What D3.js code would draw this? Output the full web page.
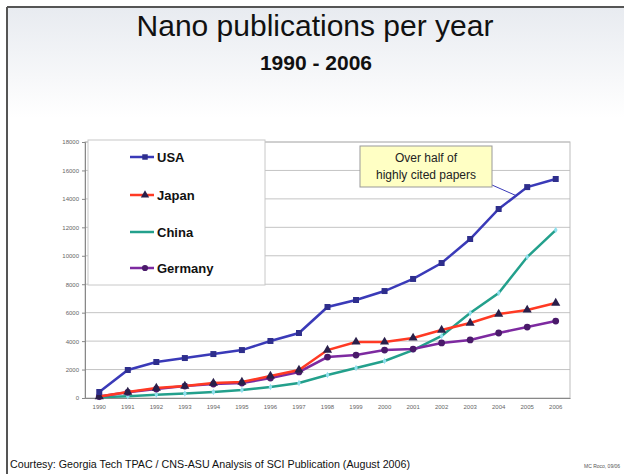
<!DOCTYPE html>
<html>
<head>
<meta charset="utf-8">
<script src="https://cdn.jsdelivr.net/npm/d3@7"></script>
<style>
  body { margin: 0; background: #fff; }
  svg { display: block; font-family: 'Liberation Sans', Arial, sans-serif; }
</style>
</head>
<body>
<div id="chart"></div>
<script>
// Data
var years = ['1990','1991','1992','1993','1994','1995','1996','1997','1998','1999','2000','2001','2002','2003','2004','2005','2006'];
var usa     = [420, 1970, 2530, 2810, 3090, 3370, 4010, 4570, 6400, 6890, 7520, 8370, 9490, 11180, 13290, 14830, 15400];
var japan   = [100, 420, 700, 840, 1050, 1120, 1550, 1970, 3370, 3940, 3940, 4220, 4780, 5270, 5900, 6190, 6680];
var china   = [50, 130, 220, 320, 420, 560, 780, 1050, 1620, 2110, 2600, 3370, 4360, 5980, 7380, 9910, 11810];
var germany = [100, 400, 630, 840, 980, 1050, 1400, 1830, 2880, 3020, 3370, 3440, 3870, 4080, 4570, 4990, 5410];
var yTicks  = [0, 2000, 4000, 6000, 8000, 10000, 12000, 14000, 16000, 18000];

var series = [
  { name: 'USA',     values: usa,     line: '#3a3ab8', mark: '#2e2e8c', shape: d3.symbolSquare },
  { name: 'Japan',   values: japan,   line: '#ff3a24', mark: '#2a1f4a', shape: d3.symbolTriangle },
  { name: 'China',   values: china,   line: '#23a08c', mark: '#8fe0ee', shape: d3.symbolDiamond },
  { name: 'Germany', values: germany, line: '#7d2aa0', mark: '#4a1a6a', shape: d3.symbolCircle }
];

var W = 624, H = 474;
var svg = d3.select('#chart').append('svg').attr('width', W).attr('height', H);

// Slide background and frame
  var defs = svg.append('defs');
  var grad = defs.append('linearGradient').attr('id', 'bg').attr('x1', 0).attr('y1', 0).attr('x2', 0).attr('y2', 1);
  grad.append('stop').attr('offset', '0%').attr('stop-color', '#e8ebf0');
  grad.append('stop').attr('offset', '100%').attr('stop-color', '#ffffff');
  svg.append('rect').attr('x', 8).attr('y', 8).attr('width', W - 8).attr('height', 110).attr('fill', 'url(#bg)');
  svg.append('line').attr('x1', 7).attr('x2', W).attr('y1', 7).attr('y2', 7).attr('stroke', '#555').attr('stroke-width', 2);
  svg.append('line').attr('x1', 7).attr('x2', 7).attr('y1', 7).attr('y2', H).attr('stroke', '#555').attr('stroke-width', 2);

// Titles
  svg.append('text').attr('x', 315).attr('y', 36).attr('text-anchor', 'middle')
    .attr('font-size', 30).attr('fill', '#111').text('Nano publications per year');
  svg.append('text').attr('x', 316).attr('y', 70).attr('text-anchor', 'middle')
    .attr('font-size', 21).attr('font-weight', 'bold').attr('fill', '#111').text('1990 -  2006');

// Scales
  var x = d3.scaleBand().domain(years).range([85, 570]);
  var y = d3.scaleLinear().domain([0, 18000]).range([398, 142]);
  var cx = d => x(d) + x.bandwidth() / 2;

// Grid and axes
  svg.append('g').selectAll('line').data(yTicks.slice(1)).join('line')
    .attr('x1', 85).attr('x2', 570)
    .attr('y1', d => y(d)).attr('y2', d => y(d))
    .attr('stroke', '#c4c4c4').attr('stroke-width', 1);

  svg.append('rect').attr('x', 85).attr('y', 142).attr('width', 485).attr('height', 256)
    .attr('fill', 'none').attr('stroke', '#bdbdbd');

  var yAxis = svg.append('g').attr('transform', 'translate(85,0)')
    .call(d3.axisLeft(y).tickValues(yTicks).tickFormat(d3.format('d')).tickSize(3).tickPadding(3));
  yAxis.select('.domain').attr('stroke', '#888');
  yAxis.selectAll('.tick line').attr('stroke', '#888');
  yAxis.selectAll('text').attr('font-size', 6).attr('fill', '#666');

  var xAxis = svg.append('g').attr('transform', 'translate(0,398)')
    .call(d3.axisBottom(x).tickSize(0).tickPadding(7));
  xAxis.select('.domain').attr('stroke', '#888');
  xAxis.selectAll('text').attr('font-size', 6).attr('fill', '#666');

// Lines and markers
  var line = d3.line().x((d, i) => cx(years[i])).y(d => y(d));
  var drawOrder = [series[2], series[3], series[1], series[0]];
  drawOrder.forEach(function(s) {
    svg.append('path').datum(s.values)
      .attr('d', line).attr('fill', 'none')
      .attr('stroke', s.line).attr('stroke-width', 2.5);
    svg.append('g').selectAll('path').data(s.values).join('path')
      .attr('transform', (d, i) => 'translate(' + cx(years[i]) + ',' + y(d) + ')')
      .attr('d', d3.symbol().type(s.shape).size(s.name === 'China' ? 12 : 36))
      .attr('fill', s.mark);
  });

// Legend
  svg.append('rect').attr('x', 88).attr('y', 140).attr('width', 177).attr('height', 145)
    .attr('fill', '#fff').attr('stroke', '#c8c8c8');
  var legend = svg.append('g').selectAll('g').data(series).join('g')
    .attr('transform', (d, i) => 'translate(0,' + [157, 195, 232, 268][i] + ')');
  legend.append('line').attr('x1', 130).attr('x2', 154).attr('y1', 0).attr('y2', 0)
    .attr('stroke', d => d.line).attr('stroke-width', 2.5);
  legend.append('path').attr('transform', 'translate(145,0)')
    .attr('d', d => d3.symbol().type(d.shape).size(d.name === 'China' ? 0 : 30)())
    .attr('fill', d => d.mark);
  legend.append('text').attr('x', 157).attr('y', 5).attr('font-size', 13).attr('font-weight', 'bold')
    .attr('fill', '#111').text(d => d.name);

// Annotation
  svg.append('line').attr('x1', 492).attr('y1', 185).attr('x2', 517).attr('y2', 196)
    .attr('stroke', '#3a3ab8').attr('stroke-width', 1);
  svg.append('rect').attr('x', 360).attr('y', 146).attr('width', 132).attr('height', 41)
    .attr('fill', '#ffffc4').attr('stroke', '#999');
  svg.append('text').attr('x', 426).attr('y', 162).attr('text-anchor', 'middle')
    .attr('font-size', 12).attr('fill', '#222').text('Over half of');
  svg.append('text').attr('x', 426).attr('y', 179).attr('text-anchor', 'middle')
    .attr('font-size', 12).attr('fill', '#222').text('highly cited papers');

// Footer
  svg.append('text').attr('x', 10).attr('y', 468).attr('font-size', 11).attr('fill', '#111')
    .attr('textLength', 400).attr('lengthAdjust', 'spacingAndGlyphs')
    .text('Courtesy: Georgia Tech TPAC / CNS-ASU Analysis of SCI Publication (August 2006)');
  svg.append('text').attr('x', 584).attr('y', 468).attr('font-size', 5).attr('fill', '#555')
    .text('MC Roco, 09/06');
</script>
</body>
</html>
